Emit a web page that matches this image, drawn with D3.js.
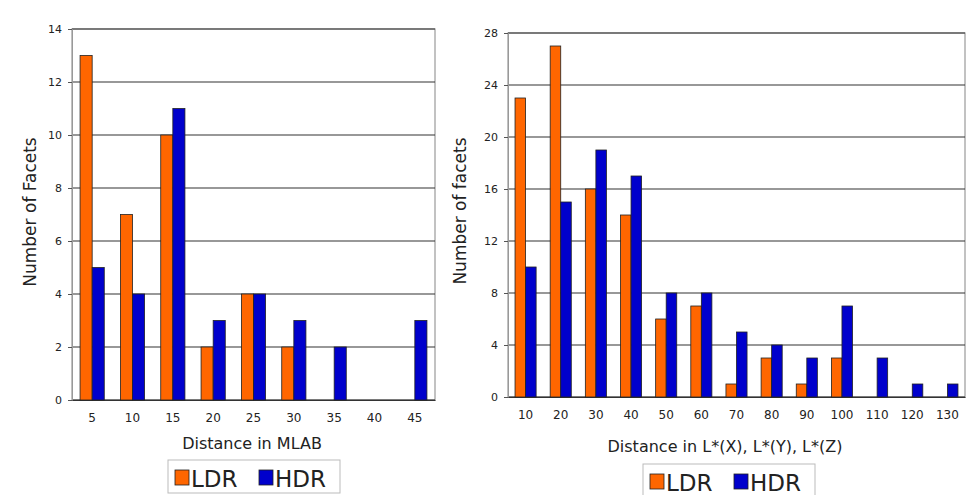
<!DOCTYPE html>
<html>
<head>
<meta charset="utf-8">
<script src="https://d3js.org/d3.v7.min.js"></script>
<style>
  body { margin: 0; background: #fff; }
  text { font-family: "DejaVu Sans", Verdana, sans-serif; fill: #222; }
</style>
</head>
<body>
<div id="chart"></div>
<script>
// left chart: MLAB distance
var mlabCats = ["5", "10", "15", "20", "25", "30", "35", "40", "45"];
var mlabLDR = [13, 7, 10, 2, 4, 2, 0, 0, 0];
var mlabHDR = [5, 4, 11, 3, 4, 3, 2, 0, 3];
var mlabTicks = [0, 2, 4, 6, 8, 10, 12, 14];

// right chart: L* distance
var lCats = ["10", "20", "30", "40", "50", "60", "70", "80", "90", "100", "110", "120", "130"];
var lLDR = [23, 27, 16, 14, 6, 7, 1, 3, 1, 3, 0, 0, 0];
var lHDR = [10, 15, 19, 17, 8, 8, 5, 4, 3, 7, 3, 1, 1];
var lTicks = [0, 4, 8, 12, 16, 20, 24, 28];

var seriesNames = ["LDR", "HDR"];
var colors = ["#ff6600", "#0000cc"];

var svg = d3.select("#chart").append("svg")
  .attr("width", 976).attr("height", 495);

function drawChart(opt) {
  var g = svg.append("g");
  var x = d3.scaleBand().domain(opt.cats).range([opt.x0, opt.x1]).paddingInner(0.4).paddingOuter(0.2);
  var y = d3.scaleLinear().domain([0, opt.max]).range([opt.y1, opt.y0]);
  var x1 = d3.scaleBand().domain(seriesNames).range([0, x.bandwidth()]);

  // plot frame
  g.append("rect")
    .attr("x", opt.x0).attr("y", opt.y0)
    .attr("width", opt.x1 - opt.x0).attr("height", opt.y1 - opt.y0)
    .attr("fill", "none").attr("stroke", "#999").attr("stroke-width", 1.2);

  // gridlines
  g.selectAll(".grid").data(opt.ticks).join("line")
    .attr("x1", opt.x0).attr("x2", opt.x1)
    .attr("y1", function(d) { return y(d); }).attr("y2", function(d) { return y(d); })
    .attr("stroke", "#333").attr("stroke-width", 1.2);

  // y axis
  var ya = g.append("g").attr("transform", "translate(" + opt.x0 + ",0)")
    .call(d3.axisLeft(y).tickValues(opt.ticks).tickSize(4).tickPadding(6));
  ya.select(".domain").attr("stroke", "#999");
  ya.selectAll(".tick line").attr("stroke", "#555");
  ya.selectAll("text").style("font-size", "11px").style("font-family", "DejaVu Sans");

  // x axis
  var xa = g.append("g").attr("transform", "translate(0," + opt.y1 + ")")
    .call(d3.axisBottom(x).tickSize(0).tickPadding(13));
  xa.select(".domain").attr("stroke", "#333");
  xa.selectAll("text").style("font-size", "12px").style("font-family", "DejaVu Sans");

  // bars
  var data = [];
  opt.cats.forEach(function(c, i) {
    data.push({ cat: c, s: "LDR", v: opt.ldr[i] });
    data.push({ cat: c, s: "HDR", v: opt.hdr[i] });
  });
  g.selectAll(".bar").data(data.filter(function(d) { return d.v > 0; })).join("rect")
    .attr("x", function(d) { return x(d.cat) + x1(d.s); })
    .attr("y", function(d) { return y(d.v); })
    .attr("width", x1.bandwidth())
    .attr("height", function(d) { return opt.y1 - y(d.v); })
    .attr("fill", function(d) { return colors[seriesNames.indexOf(d.s)]; })
    .attr("stroke", "#222").attr("stroke-width", 0.8);

  // axis titles
  g.append("text")
    .attr("x", opt.titleX).attr("y", opt.titleY)
    .attr("text-anchor", "middle").style("font-size", "16px")
    .text(opt.xTitle);
  g.append("text")
    .attr("transform", "translate(" + opt.yTitleX + "," + opt.yTitleY + ") rotate(-90)")
    .attr("text-anchor", "middle").style("font-size", "17px")
    .text(opt.yTitle);

  // legend
  var lg = g.append("g").attr("transform", "translate(" + opt.legX + "," + opt.legY + ")");
  lg.append("rect").attr("x", 0).attr("y", 0).attr("width", 172).attr("height", 33)
    .attr("fill", "#fff").attr("stroke", "#bbb");
  var items = [{ n: "LDR", dx: 7 }, { n: "HDR", dx: 91 }];
  items.forEach(function(it, i) {
    lg.append("rect").attr("x", it.dx).attr("y", 10).attr("width", 14).attr("height", 15)
      .attr("fill", colors[i]).attr("stroke", "#222").attr("stroke-width", 0.8);
    lg.append("text").attr("x", it.dx + 16).attr("y", 27)
      .style("font-size", "23px").text(it.n);
  });
}

drawChart({
  cats: mlabCats, ldr: mlabLDR, hdr: mlabHDR, ticks: mlabTicks, max: 14,
  x0: 72, x1: 435, y0: 29, y1: 400,
  xTitle: "Distance in MLAB", titleX: 252, titleY: 449,
  yTitle: "Number of Facets", yTitleX: 36, yTitleY: 212,
  legX: 168, legY: 460
});

drawChart({
  cats: lCats, ldr: lLDR, hdr: lHDR, ticks: lTicks, max: 28,
  x0: 508, x1: 965, y0: 33, y1: 397,
  xTitle: "Distance in L*(X), L*(Y), L*(Z)", titleX: 725, titleY: 452,
  yTitle: "Number of facets", yTitleX: 466, yTitleY: 211,
  legX: 643, legY: 464
});
</script>
</body>
</html>
